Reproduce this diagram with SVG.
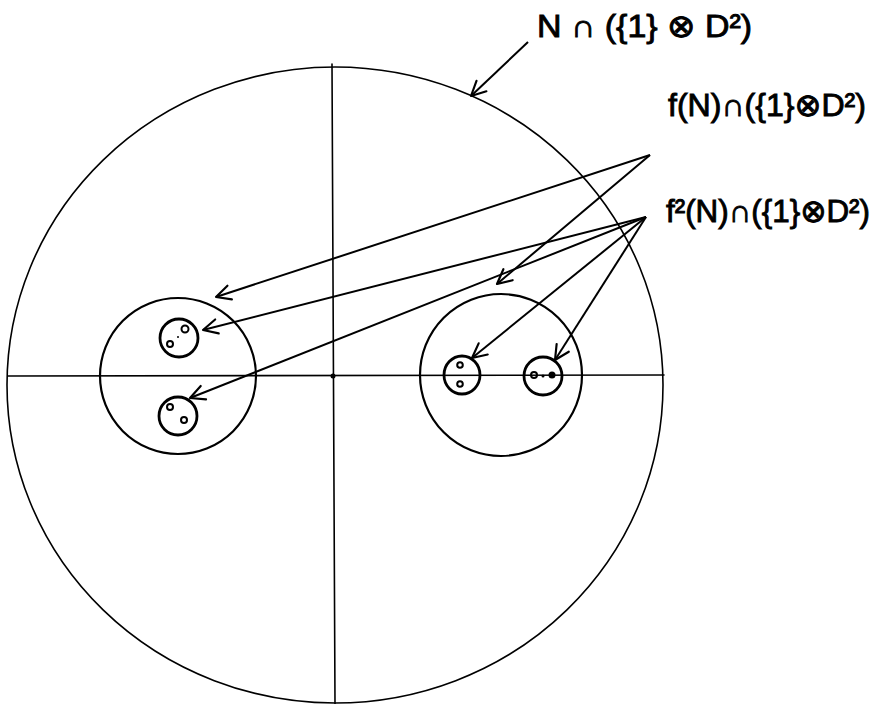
<svg xmlns="http://www.w3.org/2000/svg" width="875" height="704" viewBox="0 0 875 704">
<style>
.ln{stroke:#000;fill:none;stroke-linecap:round}
.big{stroke-width:1.6}
.mid{stroke-width:2.2}
.sm{stroke-width:2.8}
.dot{fill:none;stroke:#000;stroke-width:2}
.fd{fill:#000}
.arr{stroke:#000;stroke-width:2;fill:none;marker-end:url(#ah)}
.lbl{font-family:"Liberation Sans","DejaVu Sans",sans-serif;font-size:32px;fill:#000;stroke:#000;stroke-width:0.9}
</style>
<defs>
<marker id="ah" viewBox="0 0 20 20" refX="18" refY="10" markerWidth="18" markerHeight="18" markerUnits="userSpaceOnUse" orient="auto">
<path d="M2,2 L18,10 L2,18" fill="none" stroke="#000" stroke-width="2.4" stroke-linecap="round" stroke-linejoin="round"/>
</marker>
</defs>
<rect width="875" height="704" fill="#fff"/>
<g id="axes">
<line class="ln big" x1="8" y1="376" x2="664" y2="375"/>
<line class="ln big" x1="332" y1="64" x2="335" y2="704"/>
<circle class="fd" cx="333" cy="376" r="2.5"/>
</g>
<g id="disk-N">
<ellipse class="ln big" cx="335" cy="385" rx="328" ry="318"/>
</g>
<g id="disk-fN-left">
<circle class="ln mid" cx="178" cy="376" r="78"/>
</g>
<g id="disk-fN-right">
<circle class="ln mid" cx="501" cy="375" r="81"/>
</g>
<g id="disk-f2N-left-top">
<ellipse class="ln sm" cx="179" cy="338" rx="19" ry="19"/>
<circle class="dot" cx="185" cy="329" r="3.5"/>
<circle class="dot" cx="170" cy="344" r="3"/>
<circle class="fd" cx="178" cy="337" r="1"/>
</g>
<g id="disk-f2N-left-bottom">
<ellipse class="ln sm" cx="178" cy="416" rx="19" ry="19"/>
<circle class="dot" cx="170" cy="407" r="3"/>
<circle class="dot" cx="184" cy="420" r="3"/>
</g>
<g id="disk-f2N-right-left">
<ellipse class="ln sm" cx="462" cy="375" rx="18" ry="19"/>
<circle class="dot" cx="460" cy="365" r="2.8"/>
<circle class="dot" cx="460" cy="384" r="2.8"/>
</g>
<g id="disk-f2N-right-right">
<ellipse class="ln sm" cx="543" cy="376" rx="19" ry="19"/>
<circle class="dot" cx="534" cy="375" r="3"/>
<circle class="fd" cx="543" cy="376" r="1.5"/>
<circle class="fd" cx="552" cy="375" r="3.5"/>
</g>
<g id="label-N">
<text class="lbl" x="537" y="37" textLength="215" lengthAdjust="spacingAndGlyphs">N ∩ ({1} ⊗ D²)</text>
</g>
<g id="label-fN">
<text class="lbl" x="668" y="116" textLength="198" lengthAdjust="spacingAndGlyphs">f(N)∩({1}⊗D²)</text>
</g>
<g id="label-f2N">
<text class="lbl" x="666" y="222" textLength="204" lengthAdjust="spacingAndGlyphs">f²(N)∩({1}⊗D²)</text>
</g>
<g id="connectors">
<line class="arr" x1="528" y1="42" x2="471" y2="96"/>
<line class="arr" x1="650" y1="155" x2="216" y2="297"/>
<line class="arr" x1="650" y1="155" x2="497" y2="284"/>
<line class="arr" x1="646" y1="217" x2="203" y2="330"/>
<line class="arr" x1="646" y1="217" x2="190" y2="398"/>
<line class="arr" x1="646" y1="217" x2="472" y2="358"/>
<line class="arr" x1="646" y1="217" x2="555" y2="360"/>
</g>
</svg>
